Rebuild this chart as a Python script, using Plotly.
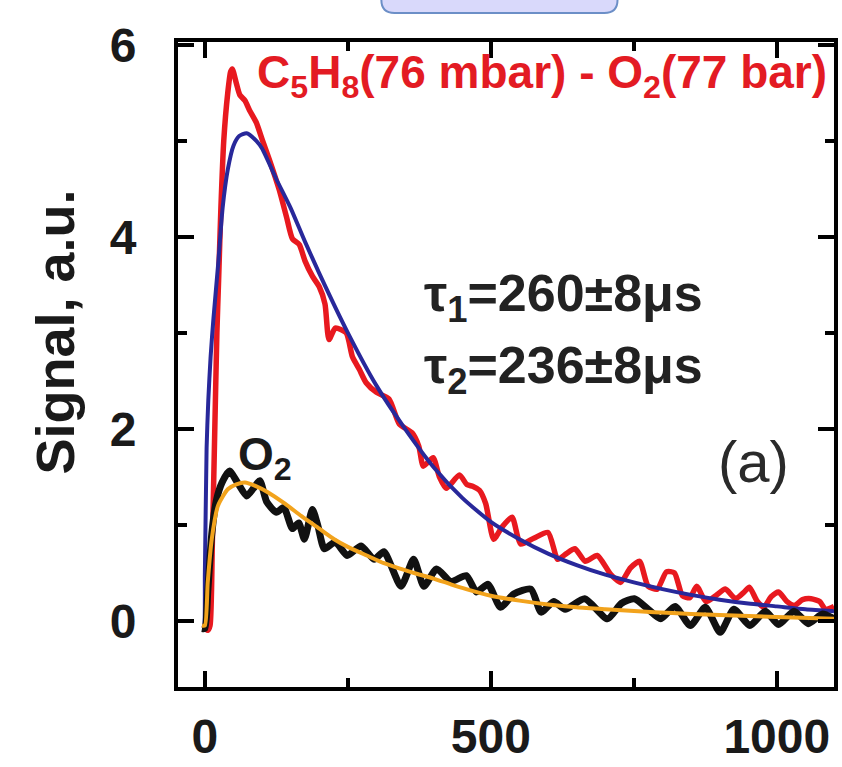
import plotly.graph_objects as go

# ---- data ----
red_x = [-5, 0, 5, 9, 13, 17, 21, 24, 28, 33, 40, 45, 48, 55, 61, 70, 78, 90, 101, 113, 130, 143, 153, 165,
         175, 188, 200, 210, 217, 228, 247, 258, 270, 282, 300, 322, 340, 362, 374, 382, 399, 410, 422, 445,
         458, 469, 480, 491, 505, 520, 537, 552, 575, 600, 617, 632, 647, 665, 686, 710, 727, 744, 760, 775,
         791, 807, 821, 835, 848, 860, 876, 893, 910, 928, 943, 952, 965, 977, 990, 1003, 1018, 1031, 1045,
         1060, 1075, 1085, 1100]
red_y = [-0.08, -0.08, -0.10, -0.05, 0.8, 1.9, 3.0, 3.55, 4.3, 5.0, 5.5, 5.72, 5.75, 5.6, 5.48, 5.42, 5.32,
         5.19, 5.0, 4.8, 4.49, 4.2, 3.98, 3.92, 3.75, 3.59, 3.48, 3.3, 2.93, 3.05, 3.0, 2.75, 2.62, 2.48, 2.38,
         2.31, 2.05, 1.96, 1.82, 1.61, 1.70, 1.50, 1.38, 1.52, 1.42, 1.40, 1.36, 1.22, 0.85, 0.98, 1.08, 0.80,
         0.86, 0.92, 0.64, 0.70, 0.75, 0.62, 0.68, 0.48, 0.40, 0.55, 0.62, 0.36, 0.33, 0.51, 0.50, 0.26, 0.24,
         0.36, 0.20, 0.26, 0.33, 0.23, 0.30, 0.35, 0.21, 0.14, 0.25, 0.30, 0.20, 0.16, 0.22, 0.23, 0.20, 0.12,
         0.15]

blue_x = [-5, -2, 0, 3, 6, 10, 15, 23, 31, 40, 50, 60, 73, 90, 100, 125, 150, 175, 200, 250, 300, 350, 400,
          450, 500, 550, 600, 650, 700, 750, 800, 850, 900, 950, 1000, 1050, 1100]
blue_y = [-0.05, -0.05, 0.5, 1.8, 2.3, 2.75, 3.15, 3.7, 4.3, 4.7, 4.95, 5.05, 5.08, 5.0, 4.92, 4.6, 4.3,
          3.95, 3.62, 3.0, 2.45, 2.0, 1.6, 1.28, 1.03, 0.85, 0.70, 0.58, 0.48, 0.40, 0.33, 0.27, 0.22, 0.18,
          0.15, 0.12, 0.10]

black_x = [-5, 0, 5, 12, 20, 30, 43, 57, 73, 85, 96, 108, 125, 138, 153, 164, 174, 188, 198, 209, 228, 249,
           273, 296, 313, 343, 365, 383, 405, 430, 457, 475, 495, 517, 540, 570, 588, 610, 630, 664, 704, 728,
           751, 775, 797, 822, 849, 875, 901, 925, 953, 980, 1003, 1030, 1055, 1080, 1100]
black_y = [-0.08, -0.08, 0.3, 0.9, 1.25, 1.44, 1.56, 1.44, 1.30, 1.38, 1.46, 1.24, 1.13, 1.18, 0.96, 1.02,
           0.85, 1.16, 0.98, 0.75, 0.82, 0.68, 0.78, 0.64, 0.72, 0.36, 0.64, 0.36, 0.54, 0.41, 0.47, 0.30,
           0.38, 0.14, 0.28, 0.33, 0.09, 0.20, 0.12, 0.23, 0.02, 0.18, 0.23, 0.12, 0.02, 0.15, -0.05, 0.14,
           -0.12, 0.12, -0.05, 0.10, -0.04, 0.10, -0.03, 0.07, 0.02]

orange_x = [-5, 0, 5, 12, 23, 40, 55, 70, 90, 110, 140, 169, 200, 226, 250, 283, 313, 343, 370, 400, 430,
            457, 500, 550, 600, 650, 700, 786, 850, 900, 1000, 1100]
orange_y = [-0.05, -0.05, 0.4, 0.85, 1.2, 1.37, 1.42, 1.44, 1.40, 1.34, 1.22, 1.09, 0.96, 0.85, 0.77, 0.68,
            0.60, 0.54, 0.49, 0.44, 0.38, 0.33, 0.26, 0.21, 0.17, 0.14, 0.12, 0.09, 0.07, 0.06, 0.04, 0.02]

x_ticks = [0, 500, 1000]
y_ticks = [0, 2, 4, 6]
label_main = "C<sub>5</sub>H<sub>8</sub>(76 mbar) - O<sub>2</sub>(77 bar)"
label_tau1 = "τ<sub>1</sub>=260±8μs"
label_tau2 = "τ<sub>2</sub>=236±8μs"
label_o2 = "O<sub>2</sub>"
label_panel = "(a)"
y_title = "Signal, a.u."

FONT = "Liberation Sans, Arial, sans-serif"

fig = go.Figure()
fig.add_trace(go.Scatter(x=red_x, y=red_y, mode="lines", line=dict(color="#e8191f", width=5.5, shape="spline", smoothing=0.6)))
fig.add_trace(go.Scatter(x=blue_x, y=blue_y, mode="lines", line=dict(color="#28289a", width=4, shape="spline", smoothing=0.6)))
fig.add_trace(go.Scatter(x=black_x, y=black_y, mode="lines", line=dict(color="#111111", width=7, shape="spline", smoothing=0.6)))
fig.add_trace(go.Scatter(x=orange_x, y=orange_y, mode="lines", line=dict(color="#f2a31c", width=4, shape="spline", smoothing=0.6)))

axis_common = dict(
    showline=True, linecolor="black", linewidth=4, mirror="ticks",
    ticks="inside", ticklen=16, tickwidth=4, tickcolor="black",
    showgrid=False, zeroline=False,
    tickfont=dict(family=FONT, size=48, color="#1a1a1a", weight="bold"),
)

fig.update_xaxes(range=[-47, 1100], tickvals=x_ticks,
                 minor=dict(ticks="inside", ticklen=9, tickwidth=4, tickcolor="black", dtick=250, tick0=0),
                 ticklabelstandoff=4, **axis_common)
fig.update_yaxes(range=[-0.69, 6.03], tickvals=y_ticks,
                 minor=dict(ticks="inside", ticklen=9, tickwidth=4, tickcolor="black", dtick=1, tick0=0),
                 ticklabelstandoff=28, **axis_common)

# y-axis title (placed a bit above the plot middle, as in the reference)
fig.add_annotation(xref="paper", yref="paper", x=-0.187, y=0.55, text=y_title, textangle=-90,
                   showarrow=False, xanchor="center", yanchor="middle",
                   font=dict(family=FONT, size=54, color="#1a1a1a", weight="bold"))

fig.add_annotation(x=88, y=5.68, text=label_main, showarrow=False, xanchor="left", yanchor="middle",
                   font=dict(family=FONT, size=46, color="#e31b23", weight="bold"))
fig.add_annotation(x=380, y=3.37, text=label_tau1, showarrow=False, xanchor="left", yanchor="middle",
                   font=dict(family=FONT, size=52, color="#222222", weight="bold"))
fig.add_annotation(x=380, y=2.62, text=label_tau2, showarrow=False, xanchor="left", yanchor="middle",
                   font=dict(family=FONT, size=52, color="#222222", weight="bold"))
fig.add_annotation(x=55, y=1.70, text=label_o2, showarrow=False, xanchor="left", yanchor="middle",
                   font=dict(family=FONT, size=46, color="#1a1a1a", weight="bold"))
fig.add_annotation(x=893, y=1.66, text=label_panel, showarrow=False, xanchor="left", yanchor="middle",
                   font=dict(family=FONT, size=58, color="#2a2a2a"))

# partially visible rounded box at the top
fig.add_shape(type="path", xref="paper", yref="paper",
              path="M 0.31,1.2 L 0.31,1.065 Q 0.31,1.045 0.33,1.045 L 0.65,1.045 Q 0.67,1.045 0.67,1.065 L 0.67,1.2 Z",
              fillcolor="#d9d9fb", line=dict(color="#6c8fc7", width=2), layer="above")

fig.update_layout(width=842, height=767, margin=dict(l=178, r=4, t=42, b=79),
                  plot_bgcolor="white", paper_bgcolor="white", showlegend=False)

fig.write_html("out.html")
